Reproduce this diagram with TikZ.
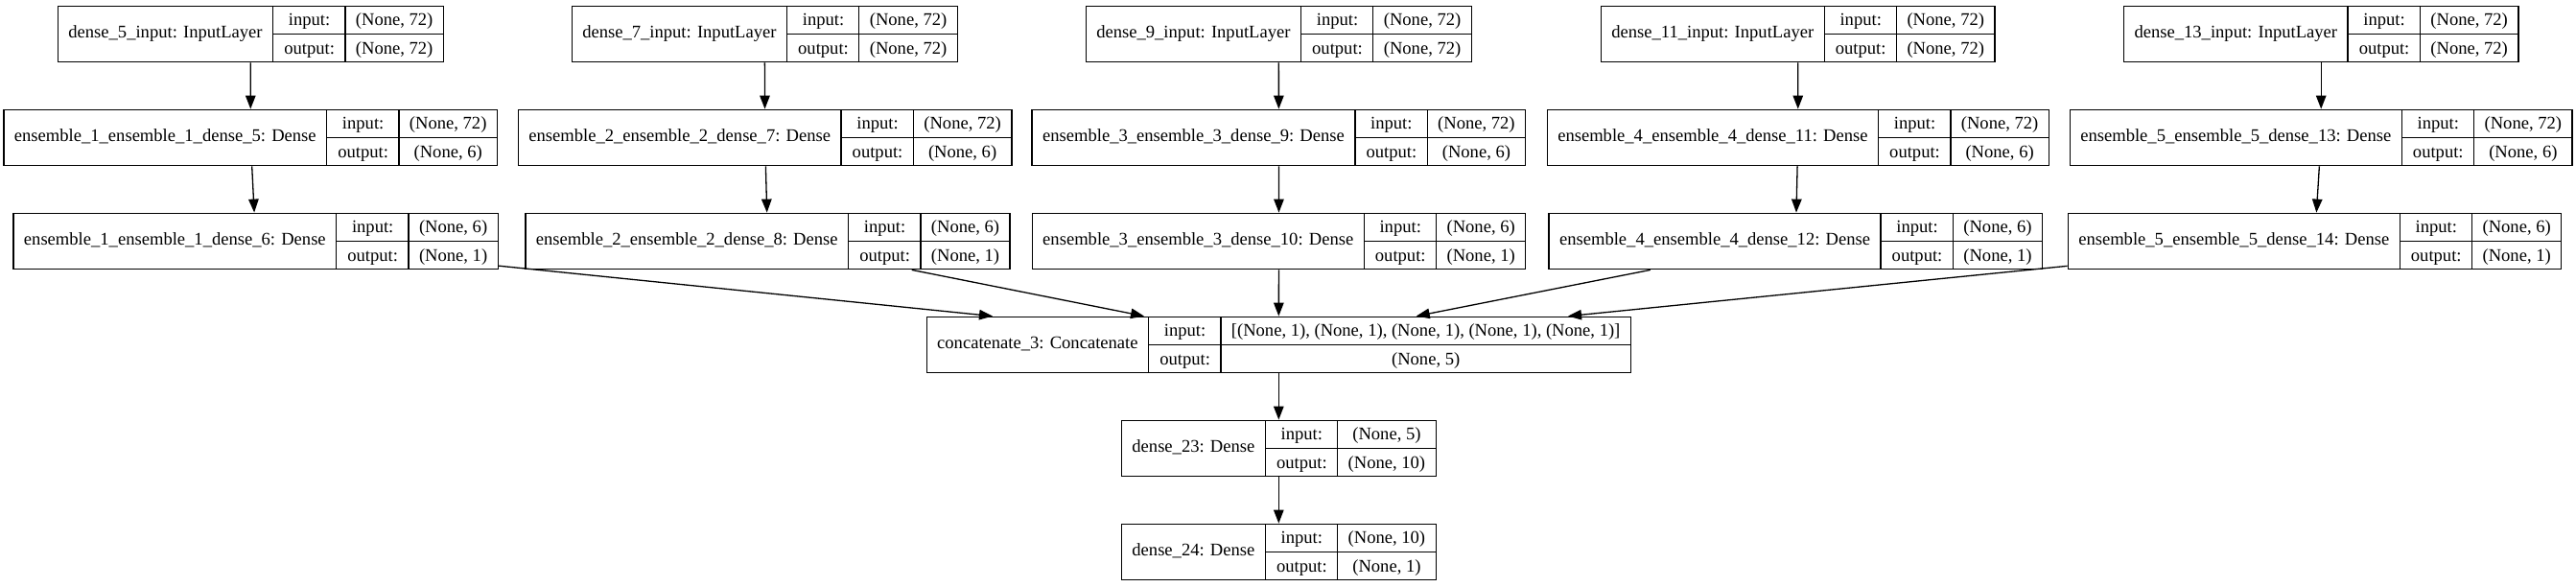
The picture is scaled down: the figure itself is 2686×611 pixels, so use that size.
\documentclass[tikz,border=0pt]{standalone}
\usepackage{fontspec}
\setmainfont{Liberation Serif}
\usetikzlibrary{arrows.meta}
\setlength{\tabcolsep}{11pt}
\setlength{\arrayrulewidth}{1.3pt}
\renewcommand{\arraystretch}{1.3}
\newcommand{\layerrec}[3]{%
  \begin{tabular}{c|@{}c@{}}
    #1 &
    \begin{tabular}{c|c}
      input: & #2 \\ \hline
      output: & #3
    \end{tabular}
  \end{tabular}}
\tikzset{
  layer/.style={draw, line width=1.3pt, inner sep=0pt, fill=white},
  arrow/.style={-{Triangle[length=14pt, width=10.5pt]}, line width=1.3pt}
}

\begin{document}
\begin{tikzpicture}[x=1pt, y=-1pt, font=\fontsize{18.58pt}{22pt}\selectfont]
    \path[use as bounding box, fill=white] (0,0) rectangle (2686,611);
    % Ensemble branches
    \foreach \k/\n/\xa/\xb/\xc in {1/5/261.4/261.2/266.6, 2/7/797.3/797.6/800.5, 3/9/1333.3/1333.4/1333.5, 4/11/1874.7/1874.8/1872.3, 5/13/2420.2/2420.2/2413.5} {
      \pgfmathtruncatemacro{\m}{\n+1}
      \node[layer] (in\k) at (\xa,35.5) {\layerrec{dense\_\n\_input: InputLayer}{(None, 72)}{(None, 72)}};
      \node[layer] (ea\k) at (\xb,143.5) {\layerrec{ensemble\_\k\_ensemble\_\k\_dense\_\n: Dense}{(None, 72)}{(None, 6)}};
      \node[layer] (eb\k) at (\xc,251.5) {\layerrec{ensemble\_\k\_ensemble\_\k\_dense\_\m: Dense}{(None, 6)}{(None, 1)}};
      \draw[arrow] (in\k) -- (ea\k);
      \draw[arrow] (ea\k) -- (eb\k);
    }
    % Merge and head
    \node[layer] (cat) at (1333.3,359.5) {\layerrec{concatenate\_3: Concatenate}{[(None, 1), (None, 1), (None, 1), (None, 1), (None, 1)]}{(None, 5)}};
    \node[layer] (d23) at (1333.3,467.5) {\layerrec{dense\_23: Dense}{(None, 5)}{(None, 10)}};
    \node[layer] (d24) at (1333.3,575.5) {\layerrec{dense\_24: Dense}{(None, 10)}{(None, 1)}};
    \foreach \k/\dx in {1/-298.3, 2/-140.3, 3/0, 4/143.4, 5/301.7} {
      \coordinate (cin\k) at ([xshift=\dx pt]cat.north);
      \draw[arrow] (eb\k) -- (cin\k);
    }
    \draw[arrow] (cat) -- (d23);
    \draw[arrow] (d23) -- (d24);
\end{tikzpicture}
\end{document}
